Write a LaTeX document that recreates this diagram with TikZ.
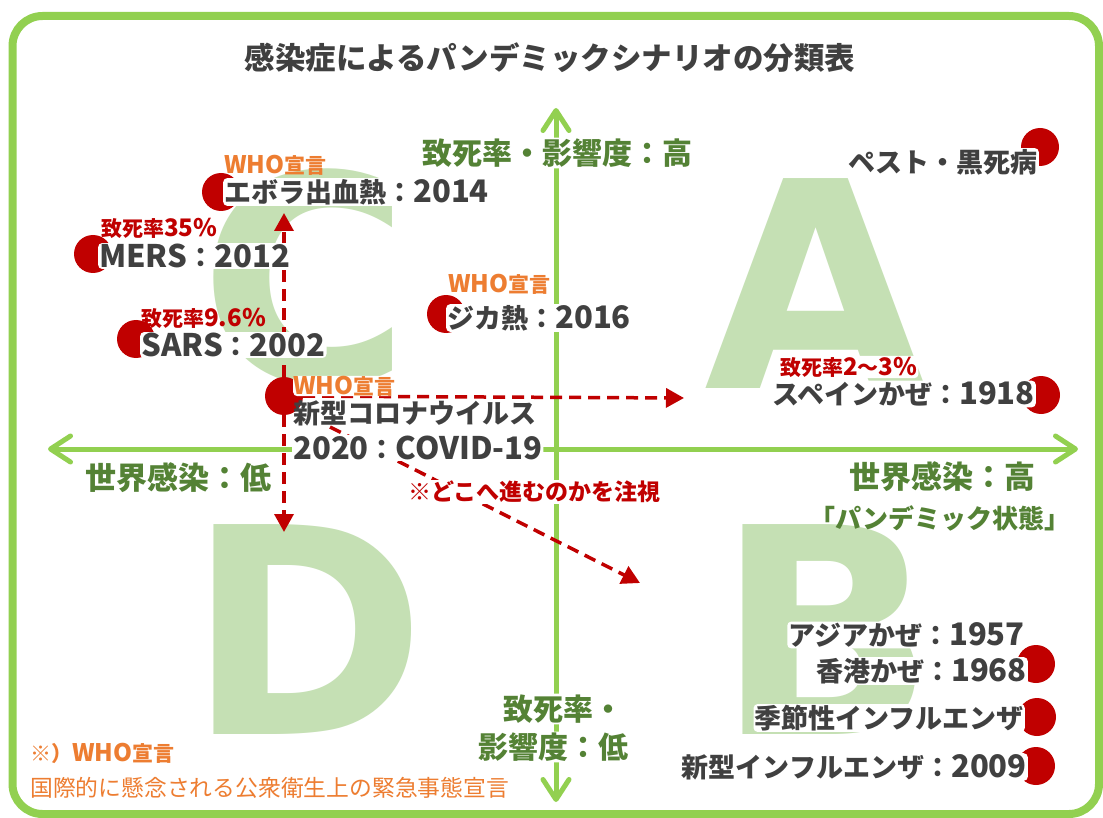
\documentclass[tikz,border=0pt]{standalone}
\usepackage{fontspec}
\setmainfont{Noto Sans CJK JP}
\newfontfamily\latf{Noto Sans CJK JP}[Scale=1.15]
\newfontfamily\bigf{DejaVu Sans}
\usetikzlibrary{arrows.meta}
\definecolor{fgreen}{HTML}{92D050}
\definecolor{lgreen}{HTML}{C5E0B4}
\definecolor{agreen}{HTML}{548235}
\definecolor{dgray}{HTML}{404040}
\definecolor{worange}{HTML}{ED7D31}
\definecolor{dred}{HTML}{C00000}
\newcommand\ltn[1]{{\latf #1}}
\begin{document}
\begin{tikzpicture}[x=1pt,y=-1pt,
  dot/.style={circle,fill=dred,minimum size=38pt,inner sep=0pt},
  halo/.style={fill=white,rounded corners=4pt},
  lbl/.style={inner sep=0pt,text=dgray,font=\bfseries\fontsize{27}{30}\selectfont},
  who/.style={inner sep=0pt,text=worange,font=\bfseries\fontsize{21}{24}\selectfont,anchor=west},
  rate/.style={inner sep=0pt,text=dred,font=\bfseries\fontsize{21}{24}\selectfont,anchor=west},
  axl/.style={inner sep=0pt,text=agreen,font=\bfseries\fontsize{30}{34}\selectfont},
  bigl/.style={inner sep=0pt,text=lgreen,font=\bigf\bfseries\fontsize{288}{288}\selectfont},
  barb/.tip={Straight Barb[length=20pt,width=26pt,line cap=round,line join=round]},
  axis/.style={draw=fgreen,line width=5pt,line cap=round,barb-barb},
  rdash/.style={draw=dred,line width=3.5pt,dash pattern=on 12pt off 7pt,-{Triangle[length=18pt,width=19pt]}},
]
\useasboundingbox (0,0) rectangle (1103,818);
\fill[white] (0,0) rectangle (1103,818);
% frame
\draw[fgreen,line width=8pt,rounded corners=30pt] (12.5,16) rectangle (1099,814);
% big letters
\node[bigl] (LC) at (305,278) {C};
\node[bigl] (LA) at (816,284) {A};
\node[bigl] (LD) at (307,630) {D};
\node[bigl] (LB) at (826,630) {B};
% axes
\coordinate (ytop) at (556,108);
\coordinate (ybot) at (556,802);
\coordinate (xl) at (48,449);
\coordinate (xr) at (1078,449);
\draw[axis] (ybot) -- (ytop);
\draw[axis] (xl) -- (xr);
% red dashed arrows
\node[dot] (corona) at (284,396) {};
\coordinate (tipU) at (284,213);
\coordinate (tipDn) at (284,532);
\coordinate (tipR) at (684,398);
\coordinate (dstart) at (330,427);
\coordinate (tipDg) at (640,583);
\draw[rdash] (corona) -- (tipU);
\draw[rdash] (corona) -- (tipDn);
\draw[rdash] (corona) -- (tipR);
\draw[rdash] (dstart) -- (tipDg);
% dots
\node[dot] (debola) at (221,192) {};
\node[dot] (dmers) at (93,254) {};
\node[dot] (dsars) at (136,339) {};
\node[dot] (dzika) at (446,314) {};
\node[dot] (dpest) at (1040,147) {};
\node[dot] (dspan) at (1041,395) {};
\node[dot] (dhk) at (1036,664) {};
\node[dot] (dseas) at (1037,717) {};
\node[dot] (dnew) at (1036,766) {};
% title
\node[inner sep=0pt,text=dgray,font=\bfseries\fontsize{30.5}{34}\selectfont] (title) at (550,58) {感染症によるパンデミックシナリオの分類表};
% axis labels
\node[axl,halo,inner sep=1pt] (ax1) at (557,153) {致死率・影響度：高};
\node[axl,anchor=west,font=\bfseries\fontsize{31}{34}\selectfont] (ax2) at (85,478) {世界感染：低};
\node[axl,anchor=east,font=\bfseries\fontsize{31}{34}\selectfont] (ax3) at (1036,477) {世界感染：高};
\node[axl,font=\bfseries\fontsize{26}{30}\selectfont] (ax4) at (940,518) {「パンデミック状態」};
\node[axl,halo,inner sep=1pt,anchor=west] (ax5) at (502,709) {致死率・};
\node[axl,halo,inner sep=1pt,anchor=west] (ax6) at (477,747) {影響度：低};
% labels left
\node[who] (who1) at (224,165) {\ltn{WHO}宣言};
\node[lbl,halo,inner sep=1pt,anchor=west] (ebola) at (223,192) {エボラ出血熱：\ltn{2014}};
\node[rate] (rmers) at (101,228) {致死率\ltn{35\%}};
\node[lbl,halo,inner sep=1pt,anchor=west] (mers) at (98,256) {\ltn{MERS}：\ltn{2012}};
\node[rate] (rsars) at (141,318) {致死率\ltn{9.6\%}};
\node[lbl,halo,inner sep=1pt,anchor=west] (sars) at (140,345) {\ltn{SARS}：\ltn{2002}};
\node[who] (who2) at (448,284) {\ltn{WHO}宣言};
\node[lbl,halo,inner sep=1pt,anchor=west] (zika) at (446,318) {ジカ熱：\ltn{2016}};
\node[who,halo] (who3) at (293,386) {\ltn{WHO}宣言};
\node[lbl,anchor=west] (cor1) at (293,413) {新型コロナウイルス};
\node[lbl,halo,inner sep=1pt,anchor=west] (cor2) at (292,448) {\ltn{2020}：\ltn{COVID-19}};
\node[rate,halo,inner sep=1pt,font=\bfseries\fontsize{23}{26}\selectfont] (note) at (407,492) {※どこへ進むのかを注視};
% labels right
\node[lbl,halo,inner sep=1pt,anchor=east] (pest) at (1039,162) {ペスト・黒死病};
\node[rate,halo,inner sep=1pt] (rspan) at (779,367) {致死率\ltn{2}～\ltn{3\%}};
\node[lbl,halo,inner sep=1pt,anchor=east] (span) at (1036,394) {スペインかぜ：\ltn{1918}};
\node[lbl,halo,inner sep=1pt,anchor=east] (asia) at (1026,635) {アジアかぜ：\ltn{1957}};
\node[lbl,halo,inner sep=1pt,anchor=east] (hk) at (1028,671) {香港かぜ：\ltn{1968}};
\node[lbl,halo,inner sep=1pt,anchor=east] (seas) at (1025,718) {季節性インフルエンザ};
\node[lbl,halo,inner sep=1pt,anchor=east] (newflu) at (1028,767) {新型インフルエンザ：\ltn{2009}};
% footnote
\node[inner sep=0pt,anchor=west,text=worange,font=\bfseries\fontsize{21}{24}\selectfont] (fn1) at (30,753) {※）\ltn{WHO}宣言};
\node[inner sep=0pt,anchor=west,text=worange,font=\fontsize{22.8}{25}\selectfont] (fn2) at (30,788) {国際的に懸念される公衆衛生上の緊急事態宣言};
\end{tikzpicture}
\end{document}
